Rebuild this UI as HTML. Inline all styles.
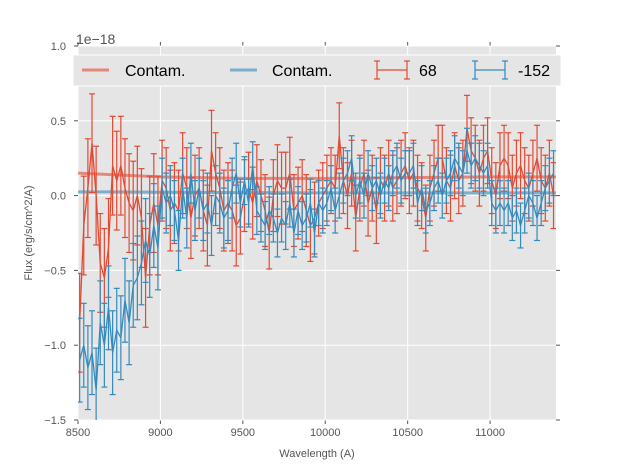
<!DOCTYPE html>
<html><head><meta charset="utf-8"><style>
body{margin:0;background:#fff;}
svg{display:block;font-family:"Liberation Sans","DejaVu Sans",sans-serif;}
</style></head><body>
<svg id="c" width="617" height="467"></svg>
<script>
const redX0=8510, stepX=25;
const redFlux=[-0.85,-0.2,0.05,0.35,0.0,-0.45,-0.55,-0.35,0.2,0.1,0.2,0.05,-0.05,-0.1,0.0,-0.15,-0.55,-0.2,-0.05,-0.2,0.1,0.05,-0.1,-0.05,-0.1,0.15,0.05,-0.15,0.0,0.05,-0.1,-0.2,0.3,0.15,0.05,-0.1,-0.05,-0.1,-0.2,-0.15,0.0,0.05,-0.05,0.1,0.0,-0.1,-0.25,0.0,0.1,0.05,0.05,0.15,-0.1,-0.05,0.0,-0.1,-0.2,-0.15,-0.05,0.0,0.05,0.1,0.05,0.4,0.1,0.0,0.15,-0.15,0.05,0.15,-0.05,0.05,-0.1,0.1,0.05,0.15,0.05,0.1,0.15,0.2,0.1,0.15,0.05,0.0,-0.15,0.05,0.15,0.25,0.25,0.1,0.05,0.2,0.1,0.15,0.45,0.3,0.25,0.15,0.25,0.3,0.1,0.0,0.2,0.25,0.2,0.05,0.15,0.2,0.1,0.05,0.15,0.25,0.1,0.05,0.15,0.0];
const blueFlux=[-1.1,-1.0,-1.15,-1.05,-1.3,-0.85,-1.0,-0.75,-1.05,-0.9,-0.95,-0.7,-0.85,-0.6,-0.55,-0.45,-0.3,-0.4,-0.2,-0.35,0.05,-0.05,0.0,-0.1,-0.3,0.05,-0.15,0.15,-0.1,0.05,-0.1,-0.05,-0.2,0.0,-0.05,-0.15,-0.1,0.05,0.15,-0.05,0.1,-0.05,0.2,-0.1,-0.15,-0.2,-0.1,-0.15,-0.25,-0.15,-0.2,-0.05,-0.25,-0.1,-0.2,-0.15,-0.05,-0.25,-0.05,-0.1,-0.05,0.05,-0.1,0.0,0.1,0.15,0.25,0.0,0.1,0.0,0.15,0.05,0.1,0.0,0.1,0.05,0.15,0.2,0.1,0.15,0.15,0.2,-0.05,0.05,-0.1,-0.05,0.05,0.1,0.0,0.1,0.15,0.25,0.2,0.15,0.3,0.2,0.25,0.2,0.15,0.2,-0.05,-0.1,-0.05,-0.1,-0.05,-0.15,-0.1,-0.2,-0.1,0.0,-0.05,-0.15,-0.05,0.05,0.1,0.15];
const redErrRegions=[0.33,0.27,0.24,0.22,0.22,0.22];
const blueErrRegions=[0.28,0.2,0.16,0.15,0.15,0.15];
const contamX=[8500,8700,9000,9500,10000,10500,11000,11400];
const contamRed=[0.15,0.14,0.125,0.115,0.115,0.12,0.125,0.125];
const contamBlue=[0.025,0.025,0.022,0.02,0.018,0.018,0.018,0.018];
const xTicks=[8500,9000,9500,10000,10500,11000];
const yTicks=[-1.5,-1.0,-0.5,0.0,0.5,1.0];
const yTickLabels=["\u22121.5","\u22121.0","\u22120.5","0.0","0.5","1.0"];

const L=78,R=556,T=46,B=420,xmin=8500,xmax=11400,ymin=-1.5,ymax=1.0;
const sx=v=>L+(v-xmin)/(xmax-xmin)*(R-L);
const sy=v=>B-(v-ymin)/(ymax-ymin)*(B-T);
const NS="http://www.w3.org/2000/svg";
const svg=document.getElementById('c');
function mk(t,a,p){const e=document.createElementNS(NS,t);for(const k in a)e.setAttribute(k,a[k]);(p||svg).appendChild(e);return e;}

const bg=mk('rect',{x:L,y:T,width:R-L,height:B-T,fill:'#E5E5E5'});


const defs=mk('defs',{});
const cp=mk('clipPath',{id:'clip'},defs);mk('rect',{x:L,y:T,width:R-L,height:B-T},cp);

xTicks.forEach(v=>{
  const g=mk('line',{x1:sx(v),x2:sx(v),y1:T,y2:B,stroke:'#fff','stroke-width':1});
  
  
  mk('line',{x1:sx(v),x2:sx(v),y1:B,y2:B+4,stroke:'#555'});
  mk('line',{x1:sx(v),x2:sx(v),y1:T,y2:T-4,stroke:'#555'});
  const t=mk('text',{x:sx(v),y:B+16,'text-anchor':'middle','font-size':11,fill:'#555'});
  t.textContent=v;
  
  
});
yTicks.forEach((v,i)=>{
  const g=mk('line',{x1:L,x2:R,y1:sy(v),y2:sy(v),stroke:'#fff','stroke-width':1});
  
  
  mk('line',{x1:L-4,x2:L,y1:sy(v),y2:sy(v),stroke:'#555'});
  mk('line',{x1:R,x2:R+4,y1:sy(v),y2:sy(v),stroke:'#555'});
  const t=mk('text',{x:L-12,y:sy(v)+4,'text-anchor':'end','font-size':11,fill:'#555'});
  t.textContent=yTickLabels[i];
  
  
});

const gd=mk('g',{'clip-path':'url(#clip)'});


function contam(arr,col,name){
  const p=mk('polyline',{points:contamX.map((x,i)=>sx(x)+','+sy(arr[i])).join(' '),fill:'none',stroke:col,'stroke-width':3,'stroke-opacity':0.6},gd);
  
  
}
contam(contamRed,'#E24A33','contam-line-68');
contam(contamBlue,'#348ABD','contam-line-152');
function series(flux,errs,col,name){
  const g=mk('g',{},gd);
  
  
  const n=flux.length;
  flux.forEach((v,i)=>{
    const x=sx(redX0+i*stepX);
    const e=errs[Math.min(errs.length-1,Math.floor(i/n*errs.length))];
    const y1=sy(v-e),y2=sy(v+e);
    mk('line',{x1:x,x2:x,y1:y1,y2:y2,stroke:col,'stroke-width':1.2},g);
    mk('line',{x1:x-3,x2:x+3,y1:y1,y2:y1,stroke:col,'stroke-width':1.2},g);
    mk('line',{x1:x-3,x2:x+3,y1:y2,y2:y2,stroke:col,'stroke-width':1.2},g);
  });
  mk('polyline',{points:flux.map((v,i)=>sx(redX0+i*stepX)+','+sy(v)).join(' '),fill:'none',stroke:col,'stroke-width':1.3},g);
}
series(redFlux,redErrRegions,'#E24A33','series-68');
series(blueFlux,blueErrRegions,'#348ABD','series-152');

// legend
const lg=mk('g',{});


mk('rect',{x:73,y:55,width:488,height:31,fill:'#E5E5E5',stroke:'#fff','stroke-width':1},lg);
const items=[['line','#E24A33','Contam.',82,125],['line','#348ABD','Contam.',230,272],['err','#E24A33','68',376,419],['err','#348ABD','-152',474,518]];
items.forEach(it=>{
  const [k,col,lab,x,tx]=it;
  const g=mk('g',{},lg);
  
  
  if(k==='line'){mk('line',{x1:x,x2:x+27,y1:70,y2:70,stroke:col,'stroke-width':3,'stroke-opacity':0.6},g);}
  else{mk('line',{x1:x+1,x2:x+31,y1:70,y2:70,stroke:col,'stroke-width':1.2},g);
    mk('line',{x1:x+1,x2:x+1,y1:61,y2:79,stroke:col,'stroke-width':1.2},g);
    mk('line',{x1:x+31,x2:x+31,y1:61,y2:79,stroke:col,'stroke-width':1.2},g);
    [x+1,x+31].forEach(cx=>{mk('line',{x1:cx-3,x2:cx+3,y1:61,y2:61,stroke:col,'stroke-width':1.2},g);mk('line',{x1:cx-3,x2:cx+3,y1:79,y2:79,stroke:col,'stroke-width':1.2},g);});}
  const t=mk('text',{x:tx,y:76,'font-size':16,fill:'#000'},g);t.textContent=lab;
});

const off=mk('text',{x:76,y:44,'font-size':14,fill:'#555'});off.textContent='1e\u221218';


const xt=mk('text',{x:(L+R)/2,y:457,'text-anchor':'middle','font-size':11,fill:'#555'});xt.textContent='Wavelength (A)';


const yt=mk('text',{x:0,y:0,'text-anchor':'middle','font-size':11,fill:'#555',transform:'translate(32,'+((T+B)/2)+') rotate(-90)'});yt.textContent='Flux (erg/s/cm^2/A)';


</script>
</body></html>
